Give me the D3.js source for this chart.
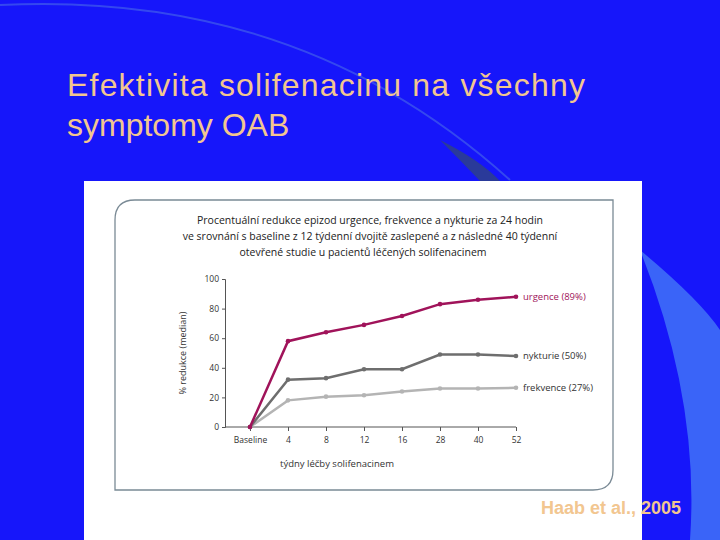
<!DOCTYPE html><html><head><meta charset="utf-8"><script src="https://cdn.jsdelivr.net/npm/d3@7"></script>
<style>body{margin:0}svg{display:block}</style></head><body><svg width="720" height="540"></svg><script>
const categories=["Baseline","4","8","12","16","28","40","52"];
const urgence=[0,58,64,69,75,83,86,88];
const nykturie=[0,32,33,39,39,49,49,48];
const frekvence=[0,18,20.5,21.5,24,26,26,26.5];
const yTicks=[0,20,40,60,80,100];
const series=[
 {name:"urgence (89%)",values:urgence,color:"#a0135a",lc:"#a0135a"},
 {name:"nykturie (50%)",values:nykturie,color:"#6e6e6e",lc:"#333"},
 {name:"frekvence (27%)",values:frekvence,color:"#b4b4b4",lc:"#333"}];
const svg=d3.select("svg");
svg.append("rect").attr("width",720).attr("height",540).attr("fill","#1616fa");
svg.append("path").attr("d","M640,250 Q700,300 720,330 L720,540 L690,540 Q700,400 640,250Z").attr("fill","#3a64f8");
svg.append("path").attr("d","M0,5 Q300,-10 510,180").attr("fill","none").attr("stroke","#4a6ae8").attr("stroke-width",2).attr("opacity",0.6);
svg.append("path").attr("d","M440,140 Q480,160 500,181 L480,181 Q460,160 440,140Z").attr("fill","#2a3a9a");
const tf="Arial, 'Liberation Sans', sans-serif";
svg.append("text").attr("x",67).attr("y",96).attr("font-family",tf).attr("font-size",32).attr("textLength",518).attr("fill","#f2c690").text("Efektivita solifenacinu na všechny");
svg.append("text").attr("x",67).attr("y",136).attr("font-family",tf).attr("font-size",32).attr("fill","#f2c690").text("symptomy OAB");
svg.append("rect").attr("x",84).attr("y",181).attr("width",558).attr("height",359).attr("fill","#fff");
svg.append("path").attr("d","M135,200 L613,200 L613,470 Q613,490 593,490 L115,490 L115,220 Q115,200 135,200Z").attr("fill","none").attr("stroke","#7a8a95").attr("stroke-width",1.3);
const sf="'Open Sans', sans-serif";
["Procentuální redukce epizod urgence, frekvence  a nykturie za 24 hodin","ve srovnání s baseline z 12 týdenní dvojitě zaslepené a z následné 40 týdenní","otevřené studie u pacientů léčených solifenacinem"].forEach((t,i)=>
 svg.append("text").attr("x",i==2?363:370).attr("y",224+i*16).attr("text-anchor","middle").attr("font-family",sf).attr("font-size",10.5).attr("fill","#222").text(t));
const x=d3.scalePoint().domain(categories).range([250,516]);
const y=d3.scaleLinear().domain([0,100]).range([427,279]);
const g=svg.append("g");
const ya=g.append("g").attr("transform","translate(225,0)").call(d3.axisLeft(y).tickValues(yTicks).tickSize(3));
const xa=g.append("g").attr("transform","translate(0,427)").call(d3.axisBottom(x).tickSize(4));
xa.select(".domain").attr("d","M225,0H516");
[ya,xa].forEach(a=>{a.selectAll("path,line").attr("stroke","#555");a.selectAll("text").attr("font-family",sf).attr("font-size",8.5).attr("fill","#333");});
xa.selectAll("text").attr("dy","1.1em");
svg.append("text").attr("transform","translate(186,353) rotate(-90)").attr("text-anchor","middle").attr("font-family",sf).attr("font-size",9).attr("fill","#333").text("% redukce (median)");
svg.append("text").attr("x",337).attr("y",467).attr("text-anchor","middle").attr("font-family",sf).attr("font-size",9.5).attr("fill","#333").text("týdny léčby solifenacinem");
const line=d3.line().x((d,i)=>x(categories[i])).y(d=>y(d));
series.slice().reverse().forEach(s=>{
 g.append("path").attr("d",line(s.values)).attr("fill","none").attr("stroke",s.color).attr("stroke-width",2.5);
 g.selectAll(null).data(s.values).enter().append("circle").attr("cx",(d,i)=>x(categories[i])).attr("cy",d=>y(d)).attr("r",2.3).attr("fill",s.color);
 g.append("text").attr("x",523).attr("y",y(s.values[7])+3.5).attr("font-family",sf).attr("font-size",9.5).attr("fill",s.lc).text(s.name);
});
svg.append("text").attr("x",541).attr("y",514).attr("font-family",tf).attr("font-weight","bold").attr("font-size",18).attr("fill","#f2c690").text("Haab et al., 2005");
</script></body></html>
